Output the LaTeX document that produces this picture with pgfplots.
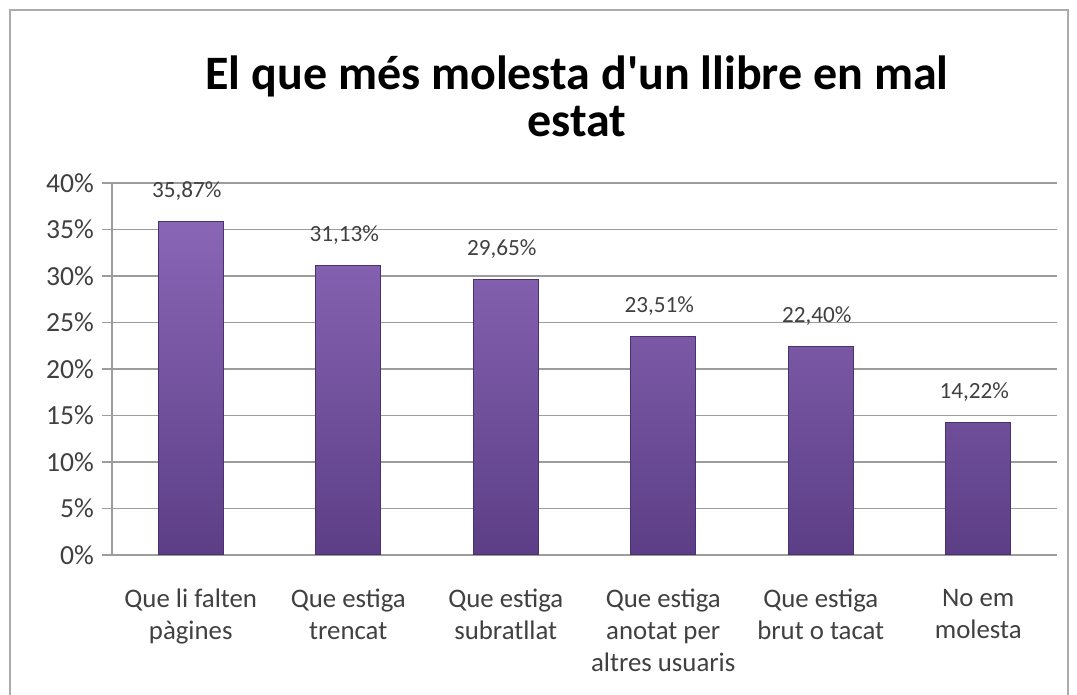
\documentclass[border=0pt]{standalone}
\usepackage{pgfplots}
\pgfplotsset{compat=1.18}
\usepackage{fontspec}
\setmainfont{Carlito}[Ligatures=TeXOff]
\definecolor{txt}{HTML}{404040}
\definecolor{gridc}{HTML}{9C9C9C}
\definecolor{bartop}{HTML}{8A66B6}
\definecolor{barbot}{HTML}{5C3E86}
\definecolor{baredge}{HTML}{4A326E}
\begin{document}
\begin{tikzpicture}
\draw[gray!65, line width=0.9pt] (5pt,-5pt) rectangle (534pt,342.5pt);
\node[font=\fontsize{24}{23.5}\selectfont\bfseries, align=center, text=black] at (288.5pt,299.5pt) {El que més molesta d'un llibre en mal\\estat};
\begin{axis}[at={(56pt,70pt)}, anchor=south west, scale only axis,
  width=472.5pt, height=186pt,
  ymin=0, ymax=40, xmin=-0.5, xmax=5.5,
  ytick={0,5,...,40},
  yticklabel={\pgfmathprintnumber{\tick}\%},
  /pgf/number format/assume math mode=true,
  ymajorgrids, grid style={gridc, line width=0.7pt},
  axis x line*=bottom, axis y line*=left,
  axis line style={gridc, line width=0.7pt},
  tick align=outside,
  xtick={0,...,5},
  xticklabels={{Que li falten\\pàgines},{Que estiga\\trencat},{Que estiga\\subratllat},{Que estiga\\anotat per\\altres usuaris},{Que estiga\\brut o tacat},{No em\\molesta}},
  x tick label style={align=center, font=\fontsize{13.4}{16}\selectfont, text=txt, yshift=-8.5pt},
  y tick label style={font=\fontsize{13.8}{15}\selectfont, text=txt, xshift=-0.5pt},
  major x tick style={draw=none},
  extra x ticks={-0.5,0.5,1.5,2.5,3.5,4.5,5.5},
  extra x tick labels={},
  extra x tick style={major tick length=4pt, tick style={gridc, line width=0.7pt}, grid=none},
  major tick length=5pt,
  tick style={gridc, line width=0.7pt},
  nodes near coords={\pgfmathprintnumber[fixed, precision=2, fixed zerofill, use comma]{\pgfplotspointmeta}\%},
  nodes near coords style={font=\fontsize{11.6}{14}\selectfont, text=txt, yshift=7pt, xshift=-2pt},
  point meta=y,
]
\addplot[ybar, bar width=32.5pt, draw=baredge, line width=0.6pt, top color=bartop, bottom color=barbot] coordinates {
(0,35.87) (1,31.13) (2,29.65) (3,23.51) (4,22.40) (5,14.22)};
\end{axis}
\pgfresetboundingbox
\useasboundingbox (0pt,0pt) rectangle (538.5pt,347.5pt);
\end{tikzpicture}
\end{document}
